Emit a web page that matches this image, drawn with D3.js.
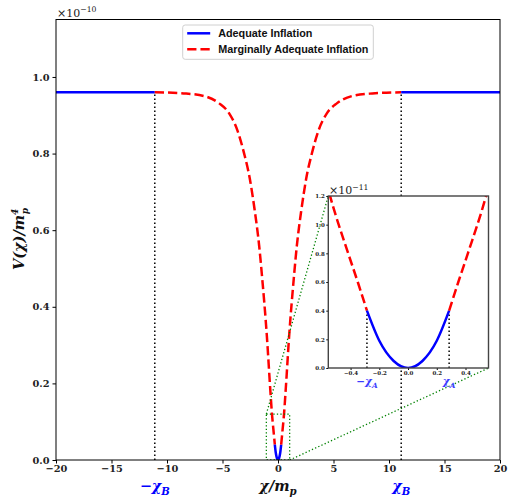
<!DOCTYPE html>
<html>
<head>
<meta charset="utf-8">
<script src="https://cdn.jsdelivr.net/npm/d3@7"></script>
<style>
    body { margin: 0; background: #fff; }
    svg { display: block; }
    .tick text { font-family: "DejaVu Serif", serif; font-weight: bold; fill: #222; }
    .tick line { stroke: #000; }
</style>
</head>
<body>
<svg id="chart" width="509" height="497"></svg>
<script>
// potential V(chi) in units of 1e-10 m_p^4
const chi = [-20, -11.1, -8.5, -6.65, -5.3, -4.4, -3.65, -3.05, -2.55, -2.1, -1.7, -1.45, -1.0, -0.7,
    -0.54, -0.42, -0.35, -0.286, -0.2, -0.1, 0, 0.1, 0.2, 0.286, 0.35, 0.42, 0.54, 0.7, 1.0, 1.45,
    1.7, 2.1, 2.55, 3.05, 3.65, 4.4, 5.3, 6.65, 8.5, 11.1, 20];
const potential = [0.96, 0.96, 0.957, 0.95, 0.931, 0.905, 0.86, 0.80, 0.736, 0.652, 0.56, 0.483, 0.322, 0.186,
    0.119, 0.081, 0.060, 0.040, 0.019, 0.0049, 0, 0.0049, 0.019, 0.040, 0.060, 0.081, 0.119, 0.186, 0.322, 0.483,
    0.56, 0.652, 0.736, 0.80, 0.86, 0.905, 0.931, 0.95, 0.957, 0.96, 0.96];

const chiB = 11.1;
const chiA = 0.286;
const xTicks = [-20, -15, -10, -5, 0, 5, 10, 15, 20];
const yTicks = [0, 0.2, 0.4, 0.6, 0.8, 1.0];
const insetXTicks = [-0.4, -0.2, 0, 0.2, 0.4];
const insetYTicks = [0, 0.2, 0.4, 0.6, 0.8, 1.0, 1.2];   // x 1e-11
const zoomBox = [-1.05, 1.05, 0, 0.12];                  // chi0, chi1, v0, v1
const legendLabels = ['Adequate Inflation', 'Marginally Adequate Inflation'];

const BLUE = '#0000ff';
const RED = '#ff0000';
const GREEN = '#008000';
const SERIF = '"DejaVu Serif", serif';

const svg = d3.select('#chart');
const points = chi.map((c, i) => ({ c: c, v: potential[i] }));
const segment = (lo, hi) => points.filter(d => d.c >= lo - 1e-9 && d.c <= hi + 1e-9);

const segments = [
    { pts: segment(-20, -chiB), adequate: true },
    { pts: segment(-chiB, -chiA), adequate: false },
    { pts: segment(-chiA, chiA), adequate: true },
    { pts: segment(chiA, chiB), adequate: false },
    { pts: segment(chiB, 20), adequate: true }
];

// main axes
const main = { left: 56, right: 500, top: 19.5, bottom: 460 };
const x = d3.scaleLinear().domain([-20, 20]).range([main.left, main.right]);
const y = d3.scaleLinear().domain([0, 1.15]).range([main.bottom, main.top]);

svg.append('clipPath').attr('id', 'main-clip')
    .append('rect')
    .attr('x', main.left).attr('y', main.top)
    .attr('width', main.right - main.left).attr('height', main.bottom - main.top);

const plot = svg.append('g').attr('clip-path', 'url(#main-clip)');

function drawCurves(g, sx, sy, vScale) {
    const line = d3.line()
        .x(d => sx(d.c))
        .y(d => sy(d.v * vScale))
        .curve(d3.curveMonotoneX);
    segments.forEach(s => {
        g.append('path')
            .attr('d', line(s.pts))
            .attr('fill', 'none')
            .attr('stroke', s.adequate ? BLUE : RED)
            .attr('stroke-width', 2.5)
            .attr('stroke-dasharray', s.adequate ? null : '9.25,4');
    });
}

function vAt(c) {
    const i = chi.indexOf(c);
    return potential[i];
}

// chi_B markers
[-chiB, chiB].forEach(c => {
    plot.append('line')
        .attr('x1', x(c)).attr('x2', x(c))
        .attr('y1', y(0)).attr('y2', y(vAt(c)))
        .attr('stroke', '#000').attr('stroke-width', 1.5)
        .attr('stroke-dasharray', '1.5,2.5');
});

drawCurves(plot, x, y, 1);

// zoom box
plot.append('rect')
    .attr('x', x(zoomBox[0])).attr('y', y(zoomBox[3]))
    .attr('width', x(zoomBox[1]) - x(zoomBox[0]))
    .attr('height', y(zoomBox[2]) - y(zoomBox[3]))
    .attr('fill', 'none').attr('stroke', GREEN).attr('stroke-width', 1.3)
    .attr('stroke-dasharray', '1.3,2.2');

// inset axes
const inset = { left: 328.3, right: 488.5, top: 196, bottom: 368 };
const ix = d3.scaleLinear().domain([-0.555, 0.56]).range([inset.left, inset.right]);
const iy = d3.scaleLinear().domain([0, 1.2]).range([inset.bottom, inset.top]);

// connectors
[[zoomBox[0], zoomBox[3], inset.left, inset.top], [zoomBox[1], zoomBox[2], inset.right, inset.bottom]]
    .forEach(([c, v, px, py]) => {
        plot.append('line')
            .attr('x1', x(c)).attr('y1', y(v))
            .attr('x2', px).attr('y2', py)
            .attr('stroke', GREEN).attr('stroke-width', 1.3)
            .attr('stroke-dasharray', '1.3,2.2');
    });

// main axes ticks
const xAxis = svg.append('g')
    .attr('transform', `translate(0, ${main.bottom})`)
    .call(d3.axisBottom(x).tickValues(xTicks).tickFormat(d3.format('.0f')).tickSize(3.5).tickPadding(2));
const yAxis = svg.append('g')
    .attr('transform', `translate(${main.left}, 0)`)
    .call(d3.axisLeft(y).tickValues(yTicks).tickFormat(d3.format('.1f')).tickSize(3.5).tickPadding(3));
[xAxis, yAxis].forEach(a => {
    a.select('.domain').remove();
    a.selectAll('.tick text').attr('font-size', 9.8).attr('font-family', SERIF);
});

svg.append('rect')
    .attr('x', main.left).attr('y', main.top)
    .attr('width', main.right - main.left).attr('height', main.bottom - main.top)
    .attr('fill', 'none').attr('stroke', '#000').attr('stroke-width', 1);

// inset panel
svg.append('rect')
    .attr('x', inset.left).attr('y', inset.top)
    .attr('width', inset.right - inset.left).attr('height', inset.bottom - inset.top)
    .attr('fill', '#fff');

svg.append('clipPath').attr('id', 'inset-clip')
    .append('rect')
    .attr('x', inset.left).attr('y', inset.top)
    .attr('width', inset.right - inset.left).attr('height', inset.bottom - inset.top);

const insetPlot = svg.append('g').attr('clip-path', 'url(#inset-clip)');

[-chiA, chiA].forEach(c => {
    insetPlot.append('line')
        .attr('x1', ix(c)).attr('x2', ix(c))
        .attr('y1', iy(0)).attr('y2', iy(vAt(c) * 10))
        .attr('stroke', '#000').attr('stroke-width', 1.5)
        .attr('stroke-dasharray', '1.5,2.5');
});

drawCurves(insetPlot, ix, iy, 10);

const ixAxis = svg.append('g')
    .attr('transform', `translate(0, ${inset.bottom})`)
    .call(d3.axisBottom(ix).tickValues(insetXTicks).tickFormat(d3.format('.1f')).tickSize(2).tickPadding(1.5));
const iyAxis = svg.append('g')
    .attr('transform', `translate(${inset.left}, 0)`)
    .call(d3.axisLeft(iy).tickValues(insetYTicks).tickFormat(d3.format('.1f')).tickSize(2).tickPadding(1.5));
[ixAxis, iyAxis].forEach(a => {
    a.select('.domain').remove();
    a.selectAll('.tick text').attr('font-size', 5.5).attr('font-family', SERIF);
    a.selectAll('.tick line').attr('stroke', '#333');
});

svg.append('rect')
    .attr('x', inset.left).attr('y', inset.top)
    .attr('width', inset.right - inset.left).attr('height', inset.bottom - inset.top)
    .attr('fill', 'none').attr('stroke', '#444').attr('stroke-width', 1.4);

// offset texts
function offsetText(px, py, size, exp) {
    const t = svg.append('text')
        .attr('x', px).attr('y', py)
        .attr('font-family', SERIF).attr('font-size', size).attr('fill', '#222');
    t.append('tspan').text('\u00d710');
    t.append('tspan').attr('dy', -size * 0.4).attr('font-size', size * 0.7).text(exp);
}
offsetText(57, 16.5, 11, '\u221210');
offsetText(329, 194, 11, '\u221211');

// axis labels
function mathLabel(px, py, size, color, base, sub, anchor) {
    const t = svg.append('text')
        .attr('x', px).attr('y', py)
        .attr('text-anchor', anchor || 'middle')
        .attr('font-family', SERIF).attr('font-style', 'italic').attr('font-weight', 'bold')
        .attr('font-size', size).attr('fill', color);
    t.append('tspan').text(base);
    t.append('tspan').attr('dy', size * 0.25).attr('font-size', size * 0.7).text(sub);
    return t;
}
mathLabel(278, 491, 14.5, '#111', '\u03c7/m', 'p');
mathLabel(x(-chiB), 491, 14.5, BLUE, '\u2212\u03c7', 'B');
mathLabel(x(chiB), 491, 14.5, BLUE, '\u03c7', 'B');
mathLabel(ix(-chiA), 385, 10.5, '#3b3bff', '\u2212\u03c7', 'A');
mathLabel(ix(chiA), 385, 10.5, '#3b3bff', '\u03c7', 'A');

const yl = svg.append('text')
    .attr('transform', 'translate(24, 239) rotate(-90)')
    .attr('text-anchor', 'middle')
    .attr('font-family', SERIF).attr('font-style', 'italic').attr('font-weight', 'bold')
    .attr('font-size', 14.5).attr('fill', '#111');
yl.append('tspan').text('V(\u03c7)/m');
yl.append('tspan').attr('dy', -6).attr('font-size', 9).text('4');
yl.append('tspan').attr('dx', -5.5).attr('dy', 10).attr('font-size', 9).text('p');

// legend
const legend = svg.append('g').attr('transform', 'translate(182.7, 25)');
legend.append('rect')
    .attr('width', 190.6).attr('height', 34.3).attr('rx', 2.5)
    .attr('fill', '#fff').attr('fill-opacity', 0.8)
    .attr('stroke', '#d0d0d0').attr('stroke-width', 1);
legendLabels.forEach((label, i) => {
    const ly = 8.3 + i * 16;
    legend.append('line')
        .attr('x1', 4.5).attr('x2', 27.5).attr('y1', ly).attr('y2', ly)
        .attr('stroke', i === 0 ? BLUE : RED).attr('stroke-width', 2.5)
        .attr('stroke-dasharray', i === 0 ? null : '9.25,4');
    legend.append('text')
        .attr('x', 35.5).attr('y', ly + 3.8)
        .attr('font-family', '"Liberation Sans", Arial, sans-serif')
        .attr('font-weight', 'bold').attr('font-size', 10.8).attr('fill', '#111')
        .text(label);
});
</script>
</body>
</html>
